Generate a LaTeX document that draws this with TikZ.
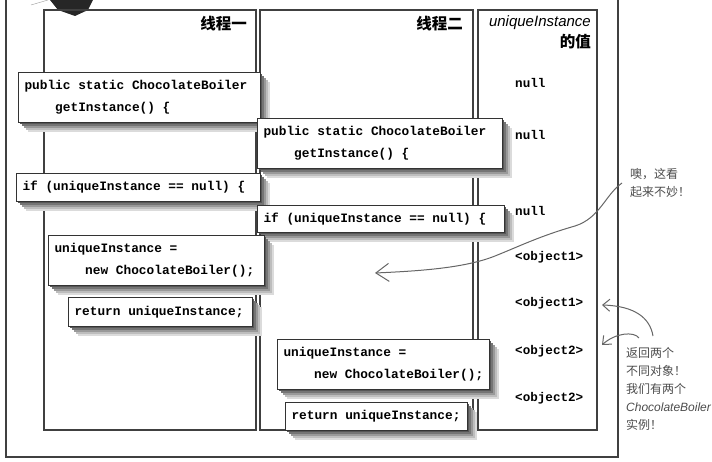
\documentclass[tikz,border=0pt]{standalone}
\usepackage{fontspec}
\setmonofont{Liberation Mono}
\newfontfamily\cjk{Noto Sans CJK SC}
\newfontfamily\hand{Liberation Sans}
\usetikzlibrary{arrows.meta}
\newcommand{\codeind}{\hspace*{2.4em}}
% code box: name, x, y, width, height, text (soft shadow drawn first)
\newcommand{\codebox}[6]{%
  \foreach \k/\g in {10/14, 8/26, 6/40, 4/54, 2/66}
    {\fill[black!\g] (#2+\k,#3+\k) rectangle ++(#4,#5);}
  \pgfmathsetmacro{\tw}{#4-12}
  \node[codebox, text width=\tw pt, minimum height=#5pt] (#1) at (#2,#3) {#6};}

\begin{document}
\begin{tikzpicture}[x=1pt, y=-1pt, >={Straight Barb[length=7pt,width=12pt]},
  frame/.style={draw=black!75, line width=1.2pt},
  codebox/.style={draw=black!80, line width=1pt, fill=white, anchor=north west,
    align=flush left, inner xsep=6pt, inner ysep=0pt,
    font=\ttfamily\bfseries\fontsize{12.8}{22}\selectfont},
  val/.style={anchor=west, inner sep=2pt, font=\ttfamily\bfseries\fontsize{12.6}{14}\selectfont},
  head/.style={anchor=east, inner sep=2pt, font=\cjk\bfseries\fontsize{15.5}{17}\selectfont},
  note/.style={anchor=west, align=left, inner sep=2pt, text=black!70,
    font=\cjk\fontsize{12}{18}\selectfont},
  hand/.style={draw=black!60, line width=1pt}]
  \clip (0,0) rectangle (712,462);

  % cartoon corner at the top
  \fill[black!85] (50,0) -- (93,0) -- (88,10) -- (75,16) -- (58,10) -- cycle;
  \draw[black!40] (31,5) -- (48,0);

  % outer frame and the three columns
  \draw[frame] (6,-10) rectangle (618,457);
  \draw[frame] (44,10) rectangle (256,430);
  \draw[frame] (260,10) rectangle (473,430);
  \draw[frame] (478,10) rectangle (597,430);

  % column heads
  \node[head] (head1) at (249,24) {线程一};
  \node[head] (head2) at (465,24) {线程二};
  \node[anchor=east, inner sep=2pt, font=\hand\itshape\fontsize{15}{17}\selectfont] (headval) at (593,23) {uniqueInstance};
  \node[head] (headval2) at (593,42) {的值};

  % values of uniqueInstance
  \node[val] (v1) at (513,83) {null};
  \node[val] (v2) at (513,135) {null};
  \node[val] (v3) at (513,211) {null};
  \node[val] (v4) at (513,257) {<object1>};
  \node[val] (v5) at (513,303) {<object1>};
  \node[val] (v6) at (513,351) {<object2>};
  \node[val] (v7) at (513,398) {<object2>};

  % code run by the two threads
  \codebox{t1get}{18}{72}{242}{50}{public static ChocolateBoiler\\\codeind getInstance() \{}
  \codebox{t2get}{257}{118}{245}{50}{public static ChocolateBoiler\\\codeind getInstance() \{}
  \codebox{t1if}{16}{173}{244}{28}{if (uniqueInstance == null) \{}
  \codebox{t2if}{257}{205}{247}{27}{if (uniqueInstance == null) \{}
  \codebox{t1new}{48}{235}{216}{50}{uniqueInstance =\\\codeind new ChocolateBoiler();}
  \codebox{t1ret}{68}{297}{184}{29}{return uniqueInstance;}
  \codebox{t2new}{277}{339}{212}{50}{uniqueInstance =\\\codeind new ChocolateBoiler();}
  \codebox{t2ret}{285}{402}{182}{28}{return uniqueInstance;}

  % notes
  \node[note] (oops) at (628,183) {噢，这看\\起来不妙！};
  \node[note] (twoobj) at (624,389)
    {返回两个\\不同对象！\\我们有两个\\{\hand\itshape ChocolateBoiler}\\实例！};

  \coordinate (tip1) at (375,273);
  \coordinate (s2) at (653,336);
  \coordinate (tip2) at (602,305);
  \coordinate (s3) at (639,338);
  \coordinate (tip3) at (602,345);

  % hand drawn arrows
  \draw[hand, -{Straight Barb[length=13pt,width=18pt]}] ([xshift=-6pt]oops.west)
    .. controls (605,195) and (600,218) .. (575,226)
    .. controls (540,236) and (520,246) .. (495,256)
    .. controls (465,268) and (420,271) .. (tip1);
  \draw[hand, ->] (s2) .. controls (650,318) and (635,306) .. (tip2);
  \draw[hand, ->] (s3) .. controls (634,331) and (615,333) .. (tip3);
\end{tikzpicture}
\end{document}
